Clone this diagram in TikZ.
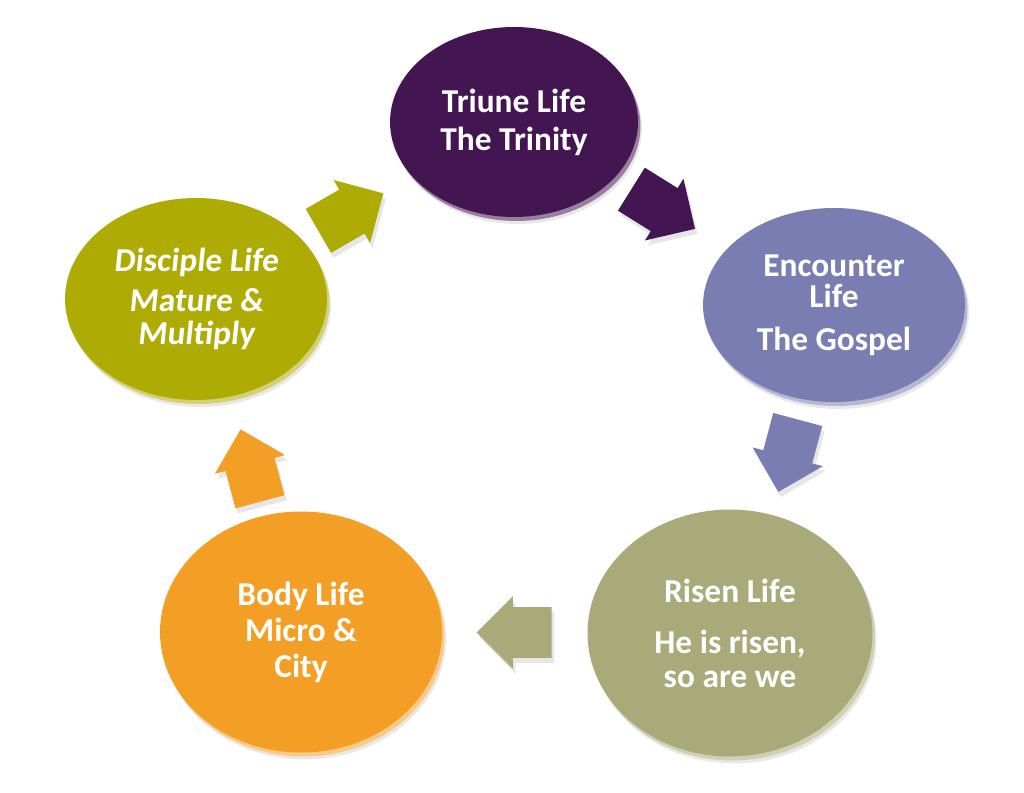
\documentclass[tikz,border=0pt]{standalone}
\usepackage{fontspec}
\setmainfont{Carlito}
\newfontfamily\leanfont[FakeSlant=0.1]{Carlito}
\usetikzlibrary{calc,shapes.geometric,shapes.arrows,shadows}
\definecolor{trinpurple}{HTML}{431551}
\definecolor{gospelblue}{HTML}{7A7DB1}
\definecolor{risenkhaki}{HTML}{AAA97A}
\definecolor{bodyorange}{HTML}{F39F25}
\definecolor{discolive}{HTML}{AFAB05}

\begin{document}
\begin{tikzpicture}[x=0.02cm,y=-0.02cm,
	disk/.style={ellipse, fill=#1, text=white, align=center, inner sep=0pt,
		font=\fontsize{19}{21}\selectfont\bfseries,
		drop shadow={opacity=0.18, shadow xshift=0.08cm, shadow yshift=-0.14cm},
		preaction={fill=#1!55!white, transform canvas={shift={(0.05cm,-0.08cm)}}}},
	turn/.style={single arrow, fill=#1, minimum height=1.5cm, anchor=tail,
		single arrow head extend=0.22cm, inner xsep=0pt, inner ysep=0.5cm,
		drop shadow={opacity=0.2, shadow xshift=0.05cm, shadow yshift=-0.1cm}}]
			%%%%% START %%%%%
			
			\useasboundingbox (0,0) rectangle (1024,793);
			
			\node[disk=trinpurple, minimum width=4.96cm, minimum height=3.8cm] (triune) at (514,122)
				{Triune Life\\[0.6pt]The Trinity};
			\node[disk=gospelblue, minimum width=5.24cm, minimum height=3.88cm] (encounter) at (834,305)
				{Encounter\\[-3.4pt]Life\\[3.5pt]The Gospel};
			\node[disk=risenkhaki, minimum width=5.7cm, minimum height=4.94cm] (risen) at (730,633)
				{Risen Life\\[8pt]He is risen,\\[-1.7pt]so are we};
			\node[disk=bodyorange, minimum width=5.64cm, minimum height=4.82cm] (body) at (301,632)
				{Body Life\\[-0.5pt]Micro \&\\[-0.5pt]City};
			\node[disk=discolive, minimum width=5.24cm, minimum height=4.04cm,
				font=\fontsize{19}{21}\selectfont\leanfont\bfseries] (disciple) at (196,299)
				{Disciple Life\\[1.8pt]Mature \&\\[-2.2pt]Multiply};
			
			\node[turn=trinpurple, rotate=-32] (tr2en) at ($(triune)!0.366!(encounter)$) {};
			\node[turn=gospelblue, rotate=-105] (en2ri) at ($(encounter)!0.348!(risen)$) {};
			\node[turn=risenkhaki, rotate=180] (ri2bo) at ($(risen)!0.415!(body)$) {};
			\node[turn=bodyorange, rotate=105] (bo2di) at ($(body)!0.39!(disciple)$) {};
			\node[turn=discolive, rotate=30] (di2tr) at ($(disciple)!0.384!(triune)$) {};
			
			%%%%% END %%%%%
\end{tikzpicture}
\end{document}
